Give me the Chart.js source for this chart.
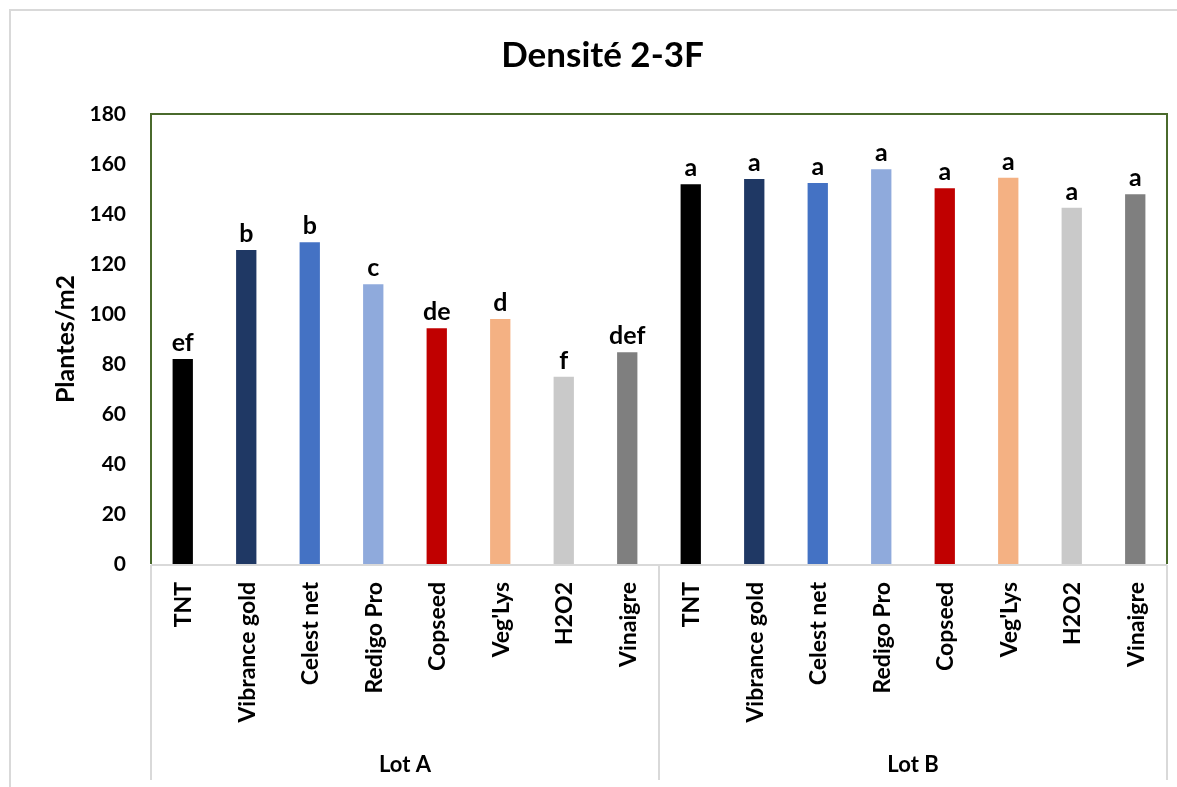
<!DOCTYPE html>
<html>
<head>
<meta charset="utf-8">
<script src="https://cdn.jsdelivr.net/npm/chart.js@4.4.0/dist/chart.umd.min.js"></script>
<style>
html,body{margin:0;padding:0;background:#fff;}
canvas{display:block;}
</style>
</head>
<body>
<canvas id="c" width="1177" height="787"></canvas>
<script>
const titleText = "Densité 2-3F";
const yAxisTitle = "Plantes/m2";
const treatments = ["TNT","Vibrance gold","Celest net","Redigo Pro","Copseed","Veg'Lys","H2O2","Vinaigre"];
const groups = ["Lot A","Lot B"];
const lotA = [82, 125.6, 128.7, 111.9, 94.3, 98, 74.9, 84.7];
const lotB = [151.9, 154, 152.4, 157.9, 150.3, 154.5, 142.5, 147.9];
const lettersA = ["ef","b","b","c","de","d","f","def"];
const lettersB = ["a","a","a","a","a","a","a","a"];
const treatmentColors = ["#000000","#1F3864","#4472C4","#8FAADC","#C00000","#F4B183","#C9C9C9","#7F7F7F"];
const yTicks = [0,20,40,60,80,100,120,140,160,180];

const labels = treatments.concat(treatments);
const values = lotA.concat(lotB);
const letters = lettersA.concat(lettersB);
const colors = treatmentColors.concat(treatmentColors);

const FONT = "Lato";
const GREEN = "#4a6a2c";
const GREY = "#d9d9d9";

const decor = {
  id: 'decor',
  beforeDraw(chart) {
    const ctx = chart.ctx;
    ctx.save();
    ctx.fillStyle = '#fff';
    ctx.fillRect(0,0,chart.width,chart.height);
    ctx.strokeStyle = GREY;
    ctx.lineWidth = 2;
    ctx.beginPath();
    ctx.moveTo(10, chart.height);
    ctx.lineTo(10, 10);
    ctx.lineTo(chart.width, 10);
    ctx.stroke();
    ctx.restore();
  },
  afterDatasetsDraw(chart) {
    const ctx = chart.ctx;
    const meta = chart.getDatasetMeta(0);
    ctx.save();
    ctx.fillStyle = '#000';
    ctx.font = "bold 25px " + FONT;
    ctx.textAlign = 'center';
    ctx.textBaseline = 'alphabetic';
    meta.data.forEach((bar, i) => {
      ctx.fillText(letters[i], bar.x, bar.y - 8);
    });
    ctx.restore();
  },
  afterDraw(chart) {
    const ctx = chart.ctx;
    const a = chart.chartArea;
    const xs = chart.scales.x;
    ctx.save();
    ctx.strokeStyle = GREEN;
    ctx.lineWidth = 2;
    ctx.beginPath();
    ctx.moveTo(a.left, a.bottom);
    ctx.lineTo(a.left, a.top);
    ctx.lineTo(a.right, a.top);
    ctx.lineTo(a.right, a.bottom);
    ctx.stroke();
    ctx.strokeStyle = GREY;
    ctx.beginPath();
    ctx.moveTo(a.left, a.bottom + 1);
    ctx.lineTo(a.right, a.bottom + 1);
    ctx.stroke();
    const n = treatments.length;
    const bounds = [];
    for (let g = 0; g <= groups.length; g++) {
      bounds.push(xs.getPixelForValue(g * n - 0.5));
    }
    ctx.beginPath();
    bounds.forEach(x => {
      ctx.moveTo(x, a.bottom + 1);
      ctx.lineTo(x, 780);
    });
    ctx.stroke();
    ctx.fillStyle = '#000';
    ctx.font = "bold 23px " + FONT;
    ctx.textAlign = 'right';
    ctx.textBaseline = 'middle';
    labels.forEach((lab, i) => {
      const x = xs.getPixelForTick(i);
      ctx.save();
      ctx.translate(x + 1, a.bottom + 18);
      ctx.rotate(-Math.PI / 2);
      ctx.fillText(lab, 0, 0);
      ctx.restore();
    });
    ctx.font = "bold 22px " + FONT;
    ctx.textAlign = 'center';
    ctx.textBaseline = 'alphabetic';
    groups.forEach((g, k) => {
      ctx.fillText(g, (bounds[k] + bounds[k + 1]) / 2, 772);
    });
    ctx.restore();
  }
};

new Chart(document.getElementById('c'), {
  type: 'bar',
  data: {
    labels: labels,
    datasets: [{
      data: values,
      backgroundColor: colors,
      borderWidth: 0,
      barPercentage: 0.32,
      categoryPercentage: 1.0
    }]
  },
  options: {
    responsive: false,
    animation: false,
    layout: { padding: { left: 38, right: 10, top: 0, bottom: 0 } },
    plugins: {
      legend: { display: false },
      tooltip: { enabled: false },
      title: {
        display: true,
        text: titleText,
        color: '#000',
        font: { family: FONT, size: 35, weight: 'bold' },
        padding: { top: 35, bottom: 37 }
      }
    },
    scales: {
      x: {
        grid: { display: false, drawTicks: false },
        border: { display: false },
        ticks: { display: false },
        afterFit(s) { s.height = 223; }
      },
      y: {
        min: 0,
        max: 180,
        afterBuildTicks(s) { s.ticks = yTicks.map(v => ({ value: v })); },
        grid: { display: false, drawTicks: false },
        border: { display: false },
        ticks: {
          color: '#000',
          padding: 25,
          font: { family: FONT, size: 21, weight: 'bold' }
        },
        title: {
          display: true,
          text: yAxisTitle,
          color: '#000',
          font: { family: FONT, size: 25, weight: 'bold' },
          padding: { top: 13, bottom: 0 }
        },
        afterFit(s) { s.width = 113; }
      }
    }
  },
  plugins: [decor]
});
</script>
</body>
</html>
